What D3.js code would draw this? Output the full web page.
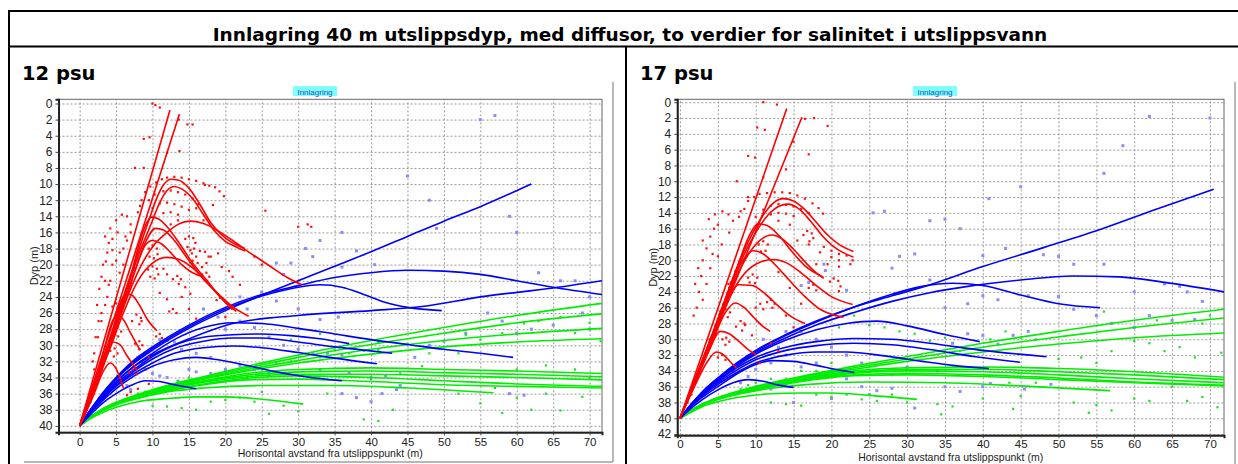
<!DOCTYPE html>
<html>
<head>
<meta charset="utf-8">
<script src="https://cdn.jsdelivr.net/npm/d3@7/dist/d3.min.js"></script>
<style>
body{margin:0;background:#fff;}
svg{display:block;font-family:"Liberation Sans",Arial,sans-serif;}
</style>
</head>
<body>
<div id="chart"></div>
<script>
// tick labels
var xTicks = [0,5,10,15,20,25,30,35,40,45,50,55,60,65,70];
var yTicks12 = [0,2,4,6,8,10,12,14,16,18,20,22,24,26,28,30,32,34,36,38,40];
var yTicks17 = [0,2,4,6,8,10,12,14,16,18,20,22,24,26,28,30,32,34,36,38,40,42];

// 12 psu : trajektorier [horisontal avstand, dyp]
var redLines12 = [
  [[0,40],[12.4,0.8]],
  [[0,40],[13.7,1.3]],
  [[0,40],[2,34.8],[4,29.5],[6,24],[8,18.5],[9.5,14.5],[10.7,11.5],[11.6,10],[12.5,9.4],[13.5,9.5],[15,10.5],[16.5,12.5],[18,14.8],[19.5,16.3],[21,17.3],[22.7,18]],
  [[0,40],[2,34.9],[4,29.7],[6,24.3],[8,19],[9.7,15.2],[11,12.3],[12,10.8],[13,10.3],[14,10.6],[15.5,11.8],[17,13.8],[18.5,15.8],[20,17.1],[21.5,17.8],[22.7,18.3]],
  [[0,40],[2,35],[4,30],[5.5,26.5],[7,23],[8.5,20],[10,17.8],[12,16],[13.5,15],[15.2,14.6],[17,14.9],[19,15.8],[21,17],[23.5,18.6],[26,20.1],[28.5,21.6],[30.5,22.5]],
  [[0,40],[2,35],[4,30],[5.5,26],[7,21.5],[8.3,17],[9.2,14.8],[9.9,14.1],[10.8,14.3],[12,15.3],[13.8,17.5],[15.5,19.8],[17.5,22],[19.3,24],[21,25.6]],
  [[0,40],[2,35.1],[4,30.2],[6,25],[7.5,21],[9,17.3],[10.4,15.5],[11.5,15.7],[13,17],[15,19.5],[17,21.8],[19,23.6],[21,25.2],[23.2,26.4]],
  [[0,40],[2,35.2],[4,30.5],[6,25.3],[7.7,20.5],[9,17.6],[10,17],[11.2,17.4],[12.5,18.5],[14,20],[15.5,21],[17,21.5]],
  [[0,40],[2,35.3],[4,30.8],[6,26],[8,22],[10,19.8],[12,19.1],[13.5,19.3],[15.5,20.4],[17.5,22.2],[19.5,24.2],[21.5,25.8]],
  [[0,40],[2,35.5],[4,30.5],[5.3,25.5],[6.3,23.6],[7.2,23.8],[8.2,25],[9.3,26.8],[10.6,28.2]],
  [[0,40],[2,35.5],[3.5,30],[4.5,27],[5.2,26.3],[6,26.8],[7,28.5],[8.3,30.6]],
  [[0,40],[2,35.6],[3.5,31.5],[4.6,29.6],[5.5,29.9],[6.5,31.3],[7.9,33.1]],
  [[0,40],[2,36],[3.2,33.3],[4.2,32.2],[5,32.9],[6,35.3]]
];
var blueLines12 = [
  [[0,40],[1.5,38],[3,36.2],[5,34.2],[7.5,32.2],[10,30.6],[15,27.9],[20,25.7],[25,23.8],[30,22],[35,20.2],[40,18.4],[45,16.5],[50,14.6],[55,12.8],[62,10]],
  [[0,40],[1.5,38.1],[3,36.4],[5,34.5],[7.5,32.6],[10,31.2],[15,29.2],[21,27.3],[30,26.3],[40,25.7],[47,25.2],[55,24],[65,22.9],[71.7,22]],
  [[0,40],[1.5,38],[3,36.1],[5,34],[7.5,31.8],[10,30.2],[15,27.5],[20,25.3],[25,23.7],[30,22.6],[35,21.6],[40,21],[45,20.7],[50,20.8],[55,21.2],[60,22],[65,22.8],[71.7,23.7]],
  [[0,40],[1.5,38],[3,36.2],[5,34.1],[7.5,32],[10,30.4],[15,27.7],[20,25.5],[25,23.9],[30,22.8],[33,22.5],[36,22.8],[39,23.7],[42,24.7],[45,25.3],[49.7,25.7]],
  [[0,40],[1.5,38.2],[3,36.5],[5,34.6],[7.5,32.6],[10,31],[13,29.3],[17,27.8],[21,27.2],[25,27.3],[30,27.9],[35,28.6],[40,29.3],[45,29.9],[50,30.5],[55,31],[59.5,31.5]],
  [[0,40],[1.5,38.2],[3,36.6],[5,34.8],[7.5,33],[10,31.4],[13,30],[17,29],[21,28.7],[25,28.6],[29,28.8],[33,29.2],[37,29.8]],
  [[0,40],[1.5,38.3],[3,36.7],[5,35],[7.5,33.2],[10,31.7],[13,30.4],[17,29.5],[21,29.1],[25,29.1],[30,29.6],[35,30.2],[39,30.6],[42.9,31]],
  [[0,40],[1.5,38.3],[3,36.8],[5,35.1],[7.5,33.5],[10,32.2],[13,31],[17,30.3],[21,30.1],[25,30.3],[30,30.9],[35,31.6],[40.8,32.3]],
  [[0,40],[1.5,38.4],[3,37],[5,35.4],[7.5,33.8],[10,32.6],[13,31.8],[16,31.5],[19,31.8],[23,32.5],[27,33.3],[31,33.9],[36,34.4]],
  [[0,40],[1.5,38.6],[3,37.3],[5,36],[7,35],[9,34.4],[11,34.5],[13,34.9],[16,35.4]]
];
var greenLines12 = [
  [[0,40],[1.5,38.9],[3,38],[5,37.1],[8,36.1],[12,35],[17,33.9],[23,32.6],[30,31.2],[40,29.4],[50,27.8],[60,26.3],[71.7,24.8]],
  [[0,40],[1.5,38.9],[3,38],[5,37.1],[8,36.2],[12,35.1],[17,34],[23,32.8],[30,31.5],[40,29.9],[50,28.5],[60,27.2],[71.7,26.1]],
  [[0,40],[1.5,38.9],[3,38],[5,37.1],[8,36.2],[12,35.1],[17,34.1],[23,33],[30,31.9],[40,30.5],[50,29.4],[60,28.6],[71.7,27.9]],
  [[0,40],[1.5,38.9],[3,38],[5,37.2],[8,36.3],[12,35.2],[17,34.2],[23,33.2],[30,32.2],[40,31.1],[50,30.2],[60,29.6],[71.7,29.2]],
  [[0,40],[1.5,38.9],[3,38.1],[5,37.2],[8,36.3],[12,35.3],[17,34.4],[23,33.5],[30,33],[40,32.8],[50,33],[60,33.2],[71.7,33.5]],
  [[0,40],[1.5,38.9],[3,38.1],[5,37.2],[8,36.4],[12,35.4],[17,34.5],[23,33.7],[30,33.3],[40,33.2],[50,33.4],[60,33.6],[71.7,33.9]],
  [[0,40],[1.5,38.9],[3,38.1],[5,37.3],[8,36.4],[12,35.5],[17,34.6],[23,33.9],[30,33.6],[40,33.6],[50,33.8],[60,34],[71.7,34.3]],
  [[0,40],[1.5,39],[3,38.1],[5,37.3],[8,36.5],[12,35.6],[17,34.8],[23,34.1],[30,33.8],[40,34],[50,34.4],[60,34.8],[71.7,35.1]],
  [[0,40],[1.5,39],[3,38.2],[5,37.3],[8,36.5],[12,35.7],[17,34.9],[23,34.3],[30,34.2],[40,34.5],[50,34.9],[60,35.1],[71.7,35.3]],
  [[0,40],[1.5,39],[3,38.2],[5,37.4],[8,36.6],[12,35.8],[17,35.3],[25,35],[35,35],[45,35.3],[56.8,35.9]],
  [[0,40],[1.5,39.1],[3,38.4],[5,37.7],[8,37],[12,36.6],[16,36.4],[20,36.4],[25,36.7],[30.7,37.3]]
];
var redDots12 = [
  [10,0],[10.4,0.2],[11,0.5],[8.8,4.4],[9.6,4.2],[7.6,8],[8.8,8],[12,6.1],[13.7,5.9],[13.6,2],[14.8,2.6],[15.5,2.6],
  [17.2,10.1],[18.3,12.6],[25.5,13.3],[30,15.3],[31.3,15],[31.8,15.3],
  [8.5,12],[9,11],[9.7,10.3],[10.5,9.8],[11.3,9.4],[12,9.2],[13,9.1],[14,9.2],[15,9.4],[16,9.6],[17,9.9],[17.8,10.2],
  [8,13.5],[8.3,12.7],[18.6,10.4],[19.2,10.9],[19.8,11.5],
  [9.5,12],[10.3,11.3],[11.5,10.9],[12.5,10.8],[13.5,11],[14.5,11.3],[15.5,11.8],[16.3,12.5],
  [10,13],[11,12.4],[12,12.3],[13,12.5],[14,12.8],[15,13.2],[11.5,13.6],[12.5,13.5],[13.5,13.8],
  [14.5,16.8],[15,16.5],[15.6,16.7],[15.9,17.3],[15.7,18],[15.2,18.2],[16,19],[15.5,19.5],
  [14.8,17.8],[15.4,18.6],[16.2,19.8],[16.8,20.3],[17.4,19.8],[17.7,19],[17.2,18.4],[16.5,18.3],
  [9.5,18],[10,17.6],[10.6,18],[10.7,18.7],[10.2,19.2],[9.6,19],
  [9.4,20.6],[10,20.2],[10.6,20.5],[10.8,21.2],[10.3,21.7],[9.7,21.5],
  [12.8,21.8],[13.4,21.4],[13.9,21.8],[13.6,22.4],[16.8,21.2],[17.4,21],[17.8,21.5],[17.5,22],
  [4.5,25.2],[5,24.8],[5.6,25.2],[5.6,25.9],[5,26.2],[4.6,28.1],[5.2,27.8],[5.7,28.3],[5.3,28.9],
  [4.2,30.7],[4.8,30.4],[5.2,31],[4.7,31.4],[7.6,29.8],[8.2,29.5],[8.6,30],[8.2,30.5],
  [10.5,28.9],[11,28.6],[11.3,29.1],[12.3,25.8],[12.8,25.5],[13.3,26],[18.8,24.4],[19.3,24.1],
  [6,18],[6.5,17],[7,16],[7,15],[6,20],[5.5,21],[4,22.5],[3.5,25],[3,27],[2.5,29],[2,31],[2,33],
  [6.5,36.2],[7,35.8],[8,35.4],[9.5,34.8],[21,21.5],[22,22.5],[24,19],[25,20],[20,26.5],[16,13],[17,14.5],[13.5,14.5],[12.5,15],
  [4,17.3],[4.5,16.8],[5.2,16],[3.8,18.5],[3.2,20],[3,21.5],[2.7,23],[2.4,25],[3.8,24],[4.2,22],[5,19.5],[5.5,18.5],[6.3,16.5],
  [3.5,16.5],[4.2,15.5],[5,14.5],[5.8,13.8],[6.5,14],[4.5,20],[3.5,22],[2.6,27],[2.2,29],[1.8,32],[3,26],[4.5,18.2],[3.6,19.6],
  [1,38],[1.5,37],[2,35.5],[2.5,34],[3,33],[3.5,31.5],[4,30.3],[4.5,29],[5,27.5],[5.5,26.3],[6,25],[6.5,23.5],[7,22.3],
  [0.5,38.8],[1.2,37.2],[1.7,36.3],[2.3,34.9],[2.8,33.3],[3.3,32.2],[3.7,30.9],[4.2,29.8],[4.7,28.3],[5.2,27],[5.7,25.6],[6.2,24.3],[6.7,22.8],
  [1.4,36.8],[2.6,33.8],[3.9,30],[5.3,26.5],[6.4,23],[7.3,21.4],[7.6,20.5],
  [19.5,20.3],[20.5,20.8],[18,19],[19,18.6],[14,24],[15,25.5],[16,26.7],[11,23.5],[12,24.3],[8.5,27],[9.5,31.5],
  [7.2,27],[7.8,26.2],[8.4,26.6],[8.2,27.4],[6.8,33.4],[7.3,33],[7.8,33.6],[11.5,20.5],[12,21.2],[14.5,22.8],[15.2,23.6]
];
var blueDots12 = [
  [11,29.3],[12,29.4],[13,29.6],[8,31.5],[8.5,32],[9,33],[6,34.5],[6.5,35],[7,35.5],[10,33.5],[11,33.8],[12,34],[13.5,34.5],
  [15,33],[16,33.3],[17,34],[18,33.5],[20,33],[22,32.5],[24,33],[26,33.5],[14,30.5],[16,31],[18,31.5],[20,28],[22,27],
  [24,27.8],[26,29],[28,30],[30,30.5],[32,31],[34,31],[36,31.2],[33,33],[37,33.5],[40,34],[42,33.8],[44,35],[36,36],
  [38,36.5],[40,37],[41.5,36],[43.5,35.5],[46,31.5],[48,30],[50,29.5],[53,28.5],[56,26],[58,27],[60,28.5],[62,28],
  [65,27.5],[66,22],[69,26],[70,28],[59,36],[61,36.2],[45,9],[55,2],[57,1.5],[48,12],[49,15.5],[59,14],[60,16],[63,21],
  [68,22],[70,24],[36,16],[33,17],[32,19],[29,19.8],[27,19.8],[22,24],[25,23.4],[27,24.5],[30,25.5],[33,26.8],[35.5,26.5],
  [28,21.2],[38,18.3],[40.5,20],[36,20.3],[31,18],[23,25.5],[19,26.5],[17,25.5]
];
var greenDots12 = [
  [13.5,34.4],[15,34],[17,34],[19,34],[21,33.3],[23,34],[25,33],[27,32.2],[29,32],[31,31],[33,31.5],[35,30.5],[37,31],
  [39,30.7],[41,30.6],[45,29.8],[48,31],[52,31],[55,29.3],[58,28.5],[61,27.3],[63,27],[66,26.5],[68,28.5],[70,27.2],
  [71.5,29.5],[8,36],[9,35.8],[11,35.4],[10,37.5],[12,37.6],[14,37.8],[16,38],[18,37],[20,36.8],[22,36.5],[24,37],
  [28,37.5],[34,36],[40,34.2],[44,33.5],[43,38],[52,36],[55,37.2],[58,38.4],[60,36.5],[62,38],[64,36],[66,38.1],
  [69,36.4],[70,34],[60,33],[64,32.5],[68,33],[39,39.2],[41,39.4],[30,38.2],[26,38.5],[25,35.8],[33,28.6],[29,29.3],
  [41,29.6],[47,32.6],[53,28.7],[57,35.3]
];

// 17 psu
var redLines17 = [
  [[0,40],[14.1,0.8]],
  [[0,40],[16.1,1.9]],
  [[0,40],[2,35],[4,30],[6,24.8],[8,19.8],[9.8,16.2],[11.2,14],[12.4,12.7],[13.6,12.2],[15,12.5],[16.5,13.6],[18,15.2],[19.5,16.8],[21,18],[22.9,18.9]],
  [[0,40],[2,35],[4,30.1],[6,25],[8,20.2],[10,16.5],[11.6,14.3],[13,13.2],[14.3,12.9],[15.7,13.5],[17.2,15],[18.7,16.8],[20.2,18.2],[21.5,19],[22.9,19.6]],
  [[0,40],[2,35.1],[4,30.2],[6,25.2],[7.7,20.5],[9,17.2],[10.3,15.4],[11.5,15.6],[13,16.8],[14.7,18.8],[16.5,20.7],[18.9,22.1]],
  [[0,40],[2,35.1],[4,30.3],[6,25.5],[8,21],[10,18],[12.1,16.8],[13.5,17.3],[15,18.6],[16.7,20.4],[18,21.6],[19,22.3]],
  [[0,40],[2,35.2],[4,30.5],[6,25.8],[8,22.3],[10,20.5],[12.3,19.9],[14,20.3],[16,21.6],[18,23.2],[20,24.6],[22.8,25.6]],
  [[0,40],[2,35.2],[4,30.4],[6,25.5],[8,20.5],[9.7,18.8],[11,19.2],[12.5,20.5],[14.5,22.6],[16.5,24.6],[18.5,26.2],[21.6,27.2]],
  [[0,40],[2,35.3],[4,30.8],[6,26],[7.7,23.1],[9.5,23.2],[11.3,24.3],[13,25.8],[14.8,27.2],[16.5,28]],
  [[0,40],[2,35.4],[4,31],[6,26.6],[7.3,25.4],[8.5,26],[9.8,27.3],[11,28.4],[11.9,29]],
  [[0,40],[2,35.6],[3.8,31.5],[5.3,29],[6.5,29.3],[7.8,30.3],[9,31.3],[10.1,32]],
  [[0,40],[2,35.8],[3.5,33],[4.8,31.6],[5.8,32],[6.7,32.9],[7.5,33.7]]
];
var blueLines17 = [
  [[0,40],[1.5,38.2],[3,36.6],[5,34.9],[7.5,33],[10,31.4],[14,29.4],[18,27.7],[23,25.9],[28,24.5],[32,23.4],[40,20.8],[48,18.4],[55.5,16.1],[63,13.5],[70.5,11]],
  [[0,40],[1.5,38.2],[3,36.7],[5,35],[7.5,33.2],[10,31.7],[14,29.8],[18,28.2],[23,26.6],[28,25.2],[33,24.1],[38,23.3],[45,22.5],[52,22],[58,22.1],[64,22.8],[71.9,24]],
  [[0,40],[1.5,38.2],[3,36.6],[5,34.9],[7.5,33.1],[10,31.5],[14,29.5],[18,27.8],[23,25.9],[28,24.3],[32,23.3],[36,22.9],[40,23.2],[45,24.4],[50,25.5],[55.5,26]],
  [[0,40],[1.5,38.3],[3,36.8],[5,35.2],[7.5,33.4],[10,31.9],[14,30.1],[18,28.8],[22,28],[26,27.7],[30,28.3],[35,29.4],[39.6,30.3]],
  [[0,40],[1.5,38.3],[3,36.9],[5,35.3],[7.5,33.6],[10,32.3],[14,31],[18,30.3],[23,29.9],[28,30],[33,30.5],[40,31.4],[48.4,32.2]],
  [[0,40],[1.5,38.4],[3,37],[5,35.5],[7.5,33.9],[10,32.6],[14,31.4],[18,30.8],[23,30.5],[28,30.7],[33,31.3],[39,32.2],[44.9,32.9]],
  [[0,40],[1.5,38.4],[3,37.1],[5,35.7],[7.5,34.2],[10,33],[14,32],[18,31.6],[22,31.6],[27,32.1],[32,32.8],[36,33.3],[40.8,33.7]],
  [[0,40],[1.5,38.5],[3,37.3],[5,36],[7.5,34.4],[10,33.2],[12,32.7],[15,32.8],[18,33.3],[20.5,33.8],[23,34.2]],
  [[0,40],[1.5,38.7],[3,37.6],[5,36.4],[7,35.5],[9,35.1],[11,35.3],[13,35.8],[15,36.1]]
];
var greenLines17 = [
  [[0,40],[1.5,39],[3,38.2],[5,37.4],[8,36.5],[12,35.5],[17,34.5],[23,33.4],[30,32.2],[40,30.5],[50,29],[60,27.6],[71.9,26.2]],
  [[0,40],[1.5,39],[3,38.2],[5,37.4],[8,36.5],[12,35.6],[17,34.6],[23,33.6],[30,32.5],[40,31],[50,29.7],[60,28.5],[71.9,27.3]],
  [[0,40],[1.5,39],[3,38.2],[5,37.4],[8,36.6],[12,35.6],[17,34.7],[23,33.8],[30,32.8],[40,31.6],[50,30.6],[60,29.8],[71.9,29.2]],
  [[0,40],[1.5,39],[3,38.2],[5,37.5],[8,36.6],[12,35.7],[17,34.8],[23,34],[30,33.6],[40,33.5],[50,33.7],[60,34.1],[71.9,34.8]],
  [[0,40],[1.5,39],[3,38.3],[5,37.5],[8,36.7],[12,35.8],[17,34.9],[23,34.2],[30,33.8],[40,33.8],[50,34.1],[60,34.5],[71.9,35.1]],
  [[0,40],[1.5,39],[3,38.3],[5,37.5],[8,36.7],[12,35.8],[17,35],[23,34.3],[30,34],[40,34.1],[50,34.5],[60,35],[71.9,35.5]],
  [[0,40],[1.5,39],[3,38.3],[5,37.6],[8,36.8],[12,35.9],[17,35.1],[23,34.5],[30,34.3],[40,34.5],[50,34.9],[60,35.4],[71.9,35.8]],
  [[0,40],[1.5,39.1],[3,38.3],[5,37.6],[8,36.8],[12,36],[17,35.2],[23,34.6],[30,34.5],[40,34.7],[50,35.1],[60,35.5],[71.9,35.9]],
  [[0,40],[1.5,39.1],[3,38.3],[5,37.6],[8,36.9],[12,36.2],[17,35.7],[25,35.4],[35,35.5],[45,35.9],[56.8,36.5]],
  [[0,40],[1.5,39.2],[3,38.5],[5,37.9],[8,37.3],[12,36.9],[16,36.8],[20,36.8],[25,37.1],[31.3,37.6]]
];
var redDots17 = [
  [11,0],[12.8,0.3],[10.2,3.2],[11.2,3.5],[9,6.8],[9.9,7],[11,9.5],[14,8.5],[15,5],[17,6.6],[16.5,2.1],[17.7,2],[19.5,3],[7.5,10],[9,12],
  [8.5,13.5],[9,12.5],[9.8,12],[10.5,11.6],[11.5,11.5],[12.5,11.4],[13.5,11.4],[14.5,11.5],[15.5,11.8],[16.5,12.2],[17.5,12.8],
  [7.8,14.5],[8,13.8],[18.3,13.4],[18.9,14.1],
  [10,14.5],[11,13.6],[12,13.1],[13,12.9],[14,13],[15,13.2],[16,13.5],[17,14],[12,14.2],[13,14],[14,14.1],[15,14.4],
  [19,18.3],[20,18.8],[21,19.2],[22,19.4],[22.8,20],[21,20],[20,19.6],[18.5,19],[17,18],[19.5,20.5],[21,20.8],[22.5,20.5],
  [16.3,16.8],[16.8,16.3],[17.4,16.6],[17.6,17.2],[17.1,17.6],[10.4,18],[11,17.6],[11.6,18],[11.3,18.8],[10.7,18.9],
  [9,22.2],[9.6,21.8],[10.2,22.2],[9.9,22.9],[9.2,22.8],[19.8,22.7],[20.3,22.3],[20.9,22.6],[21.2,23.3],[21,23.9],
  [5.5,26.5],[6,26.2],[6.6,26.6],[6.3,27.2],[5.6,30],[6.1,29.8],[6.5,30.3],[6,30.7],[5,32.3],[5.6,32],[6,32.6],
  [11.5,25.3],[12,25],[12.5,25.5],[12.2,26],[14,27],[15,28.5],[8.5,28],[9.5,29.5],[12,30.5],[13,31.5],[10.5,33],
  [4,17],[4.5,16],[5,15.5],[3.5,18.5],[3,20],[2.8,22],[2.5,24],[2.2,26],[3.5,23],[4,21],[5,19.5],[5.5,18],[6.5,16.5],[7,15],
  [3.8,14.8],[4.6,14.2],[5.6,13.8],[6.4,14.2],[3,17.5],[2.4,21],[2,23],[1.8,27],[3,25],[4.3,19.2],
  [1,38],[1.5,37],[2,35.5],[2.5,34],[3,33],[3.5,31.5],[4,30.3],[4.5,29],[5,27.5],[5.5,26.3],[6,25],[6.5,23.5],[7,22.3],
  [0.5,38.8],[1.2,37.2],[1.7,36.3],[2.3,34.9],[2.8,33.3],[3.3,32.2],[3.7,30.9],[4.2,29.8],[4.7,28.3],[5.2,27],[5.7,25.6],[6.2,24.3],[6.7,22.8],
  [1.4,36.8],[2.6,33.8],[3.9,30],[5.3,26.5],[6.4,23],[7.3,21.4],
  [14.5,15.5],[13,15],[15.5,17.5],[18,20.5],[13,21.5],[14.5,23.5],[16,25.5],
  [7.4,28.4],[8,27.7],[8.6,28.2],[8.2,28.9],[17,23.5],[17.6,23.1],[18,23.8],[10,26],[10.6,25.5],[11,26.2]
];
var blueDots17 = [
  [62,1.8],[70,2],[58.5,5.5],[56,9],[45,10.7],[40.8,12.2],[25.5,14],[27,13.8],[33,15],[35,14.8],[37,16],[43,18.5],[40,19.4],
  [50,19.5],[52,20.5],[56,20.5],[48,19.3],[19,20.5],[19.2,21.3],[16,23.2],[17,22.8],[22,23.8],[29,19.5],[28,21],[31,19.2],
  [33,22.5],[35,26],[38,25.5],[40,24.5],[42,25],[46,24.5],[50,24.6],[52,26.2],[55,27],[57,28],[60,28.5],[62,27],[65,27.6],
  [68,27.5],[69,25.2],[60,24],[64,23],[66,23.3],[67,24],[36,30.5],[38,29.3],[40,29.5],[42,30.6],[44,29.5],[46,29],[14,29],
  [16,29],[18,30],[20,31],[22,32],[24,33],[26,34],[28,34.5],[30,33.5],[34,34],[35,36],[37,36.6],[40,36],[41,35.6],
  [45.5,36.3],[49,35.7],[31,38.7],[12,33],[10,33.8],[9,34.7],[7,34],[8,35.5],[10,36],[12,36.3],[14,35.6],[16,33.5],
  [18,33],[20,34],[22,35],[24,36],[26,36.5],[13,31],[14,32],[11,30],[15,38],[20,37.5],[25,37],[28,36.2]
];
var greenDots17 = [
  [23,27],[21,28.5],[25,28.2],[27,28.5],[29,29],[31,29.3],[33,30.2],[35,29.8],[37,31.5],[39,31.2],[41,30],[43,29],[45,29.8],
  [47,30],[50,32.5],[53,32.3],[55,33],[57,31.5],[60,30.2],[62,30.5],[64,31.5],[66,31],[68,32.3],[71.5,31.7],[69,28],[70,27],
  [63,27.6],[56,26.5],[8,36.3],[9,35.8],[10,35.5],[12,35],[14,35],[16,34],[18,34],[20,33],[12,38],[14,38.2],[16,38.4],[18,37],
  [20,37.3],[22,37],[24,37.6],[26,37.8],[28,37],[30,38],[34,38.2],[36,38.5],[40,37.5],[45,37.2],[52,38],[54,39.3],[55,38.3],
  [57,39],[60,37.5],[62,37.8],[65,36],[67,37.8],[69,37.3],[71,38.6],[44,38.8],[34.5,39.5],[47,35.5],[43.5,35.5]
];

function creatPanel(svg, cfg){
    this.svg = svg;
    this.cfg = cfg;
}
creatPanel.prototype.init = function(){
    var c = this.cfg;
    this.x = d3.scaleLinear().domain(c.xDomain).range([c.left, c.right]);
    this.y = d3.scaleLinear().domain(c.yDomain).range([c.top, c.bottom]);
    this.g = this.svg.append("g");
    this.g.append("clipPath").attr("id", c.id + "clip")
        .append("rect")
        .attr("x", c.left).attr("y", c.top)
        .attr("width", c.right - c.left).attr("height", c.bottom - c.top);
    // bilde-ramme
    this.g.append("line").attr("x1", c.frameR).attr("x2", c.frameR)
        .attr("y1", c.frameT).attr("y2", c.frameB)
        .attr("stroke", "#a0a0a0").attr("stroke-width", 1.5);
    this.g.append("line").attr("x1", c.frameL).attr("x2", c.frameR)
        .attr("y1", c.frameB).attr("y2", c.frameB)
        .attr("stroke", "#a0a0a0").attr("stroke-width", 1.5);
    this.grid();
    this.draw();
    this.axes();
    this.label();
}
creatPanel.prototype.grid = function(){
    var c = this.cfg;
    var gx = this.g.append("g")
        .attr("transform", "translate(0," + c.bottom + ")")
        .call(d3.axisBottom(this.x).tickValues(xTicks).tickSize(-(c.bottom - c.top)).tickFormat(""));
    var gy = this.g.append("g")
        .attr("transform", "translate(" + c.left + ",0)")
        .call(d3.axisLeft(this.y).tickValues(c.yTicks).tickSize(-(c.right - c.left)).tickFormat(""));
    [gx, gy].forEach(function(a){
        a.select(".domain").remove();
        a.selectAll("line").attr("stroke", "#9a9a9a").attr("stroke-dasharray", "2,2");
    });
    this.g.append("rect")
        .attr("x", c.left).attr("y", c.top)
        .attr("width", c.right - c.left).attr("height", c.bottom - c.top)
        .attr("fill", "none").attr("stroke", "#666").attr("stroke-width", 1);
}
creatPanel.prototype.draw = function(){
    var c = this.cfg, x = this.x, y = this.y;
    var area = this.g.append("g").attr("clip-path", "url(#" + c.id + "clip)");
    var dots = function(data, col, s){
        area.append("g").selectAll("rect").data(data).enter().append("rect")
            .attr("x", function(d){ return x(d[0]) - s / 2; })
            .attr("y", function(d){ return y(d[1]) - s / 2; })
            .attr("width", s).attr("height", s)
            .attr("fill", col);
    };
    dots(c.blueDots, "#8c8cff", 3);
    dots(c.greenDots, "#22dd22", 2.2);
    var line = d3.line()
        .x(function(d){ return x(d[0]); })
        .y(function(d){ return y(d[1]); })
        .curve(d3.curveMonotoneX);
    var lines = function(data, col){
        area.append("g").selectAll("path").data(data).enter().append("path")
            .attr("d", line)
            .attr("fill", "none")
            .attr("stroke", col)
            .attr("stroke-width", 1.6);
    };
    lines(c.greenLines, "#00ee00");
    lines(c.blueLines, "#0000ff");
    dots(c.redDots, "#ff1010", 2.2);
    lines(c.redLines, "#ff0000");
}
creatPanel.prototype.axes = function(){
    var c = this.cfg;
    var ax = this.g.append("g")
        .attr("transform", "translate(0," + c.bottom + ")")
        .call(d3.axisBottom(this.x).tickValues(xTicks).tickSize(3).tickPadding(c.xPad));
    var ay = this.g.append("g")
        .attr("transform", "translate(" + c.left + ",0)")
        .call(d3.axisLeft(this.y).tickValues(c.yTicks).tickSize(3).tickPadding(3));
    [ax, ay].forEach(function(a){
        a.select(".domain").attr("stroke", "#222").attr("stroke-width", 2);
        a.selectAll(".tick line").attr("stroke", "#444");
        a.selectAll("text").attr("font-size", 12).attr("fill", "#222")
            .attr("font-family", "'Liberation Sans', Arial, sans-serif");
    });
    ax.selectAll("text").attr("font-size", 11.5);
    this.g.append("text")
        .attr("x", (c.left + c.right) / 2).attr("y", c.xTitleY)
        .attr("text-anchor", "middle").attr("font-size", 10.5).attr("fill", "#222")
        .text("Horisontal avstand fra utslippspunkt (m)");
    this.g.append("text")
        .attr("transform", "translate(" + c.yTitleX + "," + ((c.top + c.bottom) / 2) + ") rotate(-90)")
        .attr("text-anchor", "middle").attr("font-size", 11).attr("fill", "#222")
        .text("Dyp (m)");
}
creatPanel.prototype.label = function(){
    var c = this.cfg;
    this.g.append("rect")
        .attr("x", c.tagX - 22).attr("y", 86)
        .attr("width", 44).attr("height", 10)
        .attr("fill", "#80ffff");
    this.g.append("text")
        .attr("x", c.tagX).attr("y", 94.5)
        .attr("text-anchor", "middle").attr("font-size", 8).attr("fill", "#2050c0")
        .text("Innlagring");
    this.g.append("text")
        .attr("x", c.nameX).attr("y", 80)
        .attr("font-family", "'DejaVu Sans', Verdana, sans-serif")
        .attr("font-weight", "bold").attr("font-size", 19.5)
        .text(c.name);
}

var svg = d3.select("#chart").append("svg")
    .attr("width", 1238)
    .attr("height", 464);

// tabell-linjer
svg.append("line").attr("x1", 8).attr("x2", 1238).attr("y1", 11).attr("y2", 11)
    .attr("stroke", "#000").attr("stroke-width", 2);
svg.append("line").attr("x1", 8).attr("x2", 1238).attr("y1", 46.5).attr("y2", 46.5)
    .attr("stroke", "#000").attr("stroke-width", 2);
svg.append("line").attr("x1", 9).attr("x2", 9).attr("y1", 10).attr("y2", 464)
    .attr("stroke", "#000").attr("stroke-width", 2);
svg.append("line").attr("x1", 626).attr("x2", 626).attr("y1", 46).attr("y2", 464)
    .attr("stroke", "#000").attr("stroke-width", 2);
svg.append("text")
    .attr("x", 630).attr("y", 41)
    .attr("text-anchor", "middle")
    .attr("font-family", "'DejaVu Sans', Verdana, sans-serif")
    .attr("font-weight", "bold").attr("font-size", 18.5)
    .text("Innlagring 40 m utslippsdyp, med diffusor, to verdier for salinitet i utslippsvann");

new creatPanel(svg, {
    id: "p12", name: "12 psu", nameX: 22, tagX: 315,
    left: 58.5, right: 602, top: 99.3, bottom: 432.3,
    xDomain: [-2.9, 71.7], yDomain: [-0.52, 40.8], yTicks: yTicks12,
    frameL: 24, frameR: 613, frameT: 82, frameB: 462,
    xPad: 3, xTitleY: 457, yTitleX: 38,
    redLines: redLines12, blueLines: blueLines12, greenLines: greenLines12,
    redDots: redDots12, blueDots: blueDots12, greenDots: greenDots12
}).init();

new creatPanel(svg, {
    id: "p17", name: "17 psu", nameX: 640, tagX: 935,
    left: 677.3, right: 1224, top: 99.3, bottom: 435.3,
    xDomain: [-0.36, 71.86], yDomain: [-0.37, 42.15], yTicks: yTicks17,
    frameL: 643, frameR: 1235, frameT: 82, frameB: 470,
    xPad: 2, xTitleY: 461, yTitleX: 657,
    redLines: redLines17, blueLines: blueLines17, greenLines: greenLines17,
    redDots: redDots17, blueDots: blueDots17, greenDots: greenDots17
}).init();
</script>
</body>
</html>
